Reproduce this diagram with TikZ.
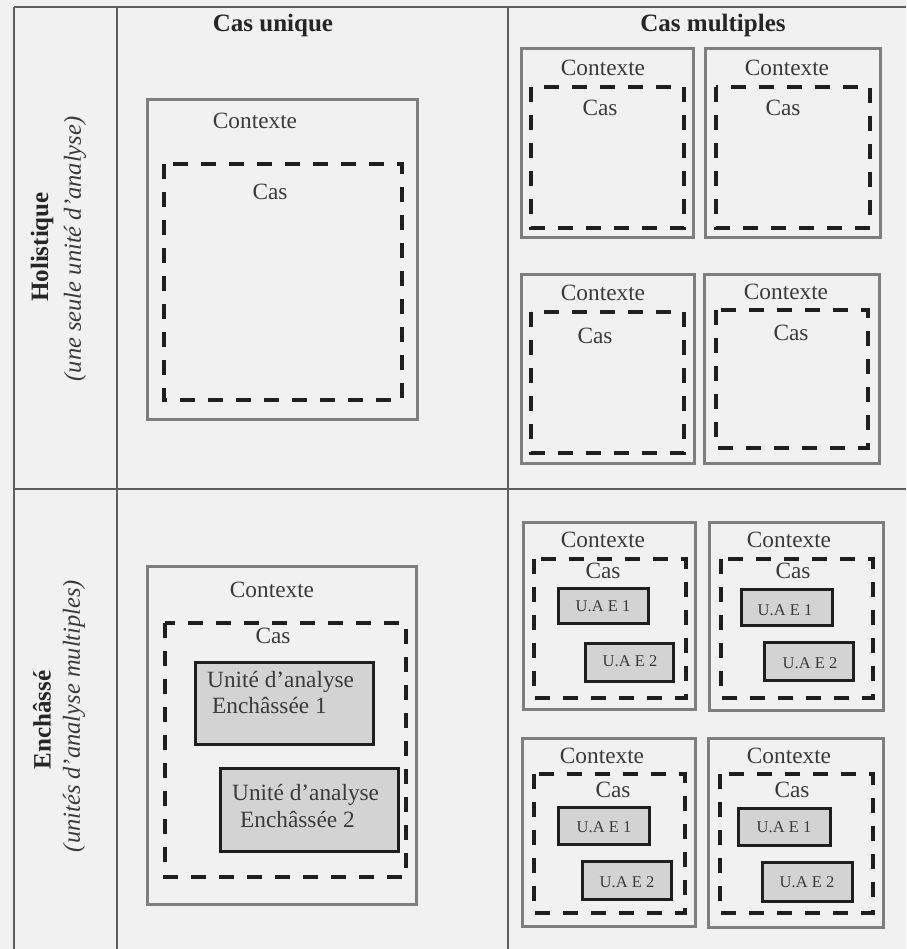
\documentclass[tikz,border=0pt]{standalone}
\usepackage{fontspec}
\setmainfont{Liberation Serif}
\definecolor{bgc}{HTML}{F1F1F1}
\definecolor{gridc}{HTML}{5E5E5E}
\definecolor{ctxc}{HTML}{7E7E7E}
\definecolor{casc}{HTML}{1E1E1E}
\definecolor{uaefill}{HTML}{D3D3D3}
\definecolor{txtc}{HTML}{3A3A3A}
\tikzset{
  gridline/.style={draw=gridc, line width=1.3pt},
  ctxbox/.style={draw=ctxc, line width=3pt},
  casbox/.style={draw=casc, line width=3.3pt, dash pattern=on 15pt off 13pt},
  uaebox/.style={draw=casc, fill=uaefill, line width=3pt},
  title/.style={font=\bfseries\fontsize{25}{28}\selectfont, text=black!85, anchor=base, inner sep=0pt},
  rowhead/.style={font=\bfseries\fontsize{25}{28}\selectfont, text=black!85, rotate=90, inner sep=0pt},
  rowsub/.style={font=\itshape\fontsize{24.5}{28}\selectfont, text=txtc, rotate=90, inner sep=0pt},
  lbl/.style={font=\fontsize{23.3}{26}\selectfont, text=txtc, anchor=base, inner sep=0pt},
  lblw/.style={font=\fontsize{23.3}{26}\selectfont, text=txtc, anchor=base west, inner sep=0pt},
  small/.style={font=\fontsize{16.5}{18}\selectfont, text=txtc, anchor=base, inner sep=0pt}
}
\begin{document}
\begin{tikzpicture}[x=1pt, y=-1pt]
\useasboundingbox (0,0) rectangle (906,949);
\fill[bgc] (0,0) rectangle (906,949);

% table grid
\draw[gridline] (14,7) -- (906,7);
\draw[gridline] (14,7) -- (14,949);
\draw[gridline] (117,7) -- (117,949);
\draw[gridline] (508,7) -- (508,949);
\draw[gridline] (14,489) -- (906,489);

% headers
\node[title] (hUnique) at (273,32) {Cas unique};
\node[title] (hMult) at (713,32) {Cas multiples};
\node[rowhead] (rHol) at (42,247) {Holistique};
\node[rowsub] (rHolSub) at (75,249) {(une seule unité d’analyse)};
\node[rowhead] (rEnc) at (42,720) {Enchâssé};
\node[rowsub] (rEncSub) at (74,716) {(unités d’analyse multiples)};

% ---------- Holistic, single case
\draw[ctxbox] (147,100) rectangle (417,419);
\draw[casbox] (164,164) rectangle (402,400);
\node[lbl] (hsCtx) at (255,129) {Contexte};
\node[lbl] (hsCas) at (270,200) {Cas};

% ---------- Holistic, multiple cases
\draw[ctxbox] (521,49) rectangle (693,238);
\draw[casbox] (531,87) rectangle (684,228);
\node[lbl] (hm1Ctx) at (603,76) {Contexte};
\node[lbl] (hm1Cas) at (600,116) {Cas};

\draw[ctxbox] (705,49) rectangle (880,238);
\draw[casbox] (716,87) rectangle (870,228);
\node[lbl] (hm2Ctx) at (787,76) {Contexte};
\node[lbl] (hm2Cas) at (783,116) {Cas};

\draw[ctxbox] (521,275) rectangle (694,463);
\draw[casbox] (531,312) rectangle (684,453);
\node[lbl] (hm3Ctx) at (603,301) {Contexte};
\node[lbl] (hm3Cas) at (595,343) {Cas};

\draw[ctxbox] (704,275) rectangle (879,463);
\draw[casbox] (716,310) rectangle (868,448);
\node[lbl] (hm4Ctx) at (786,299) {Contexte};
\node[lbl] (hm4Cas) at (791,340) {Cas};

% ---------- Embedded, single case
\draw[ctxbox] (147,566) rectangle (416,904);
\draw[casbox] (165,623) rectangle (406,877);
\draw[uaebox] (195,662) rectangle (373,744);
\draw[uaebox] (220,768) rectangle (398,851);
\node[lbl] (esCtx) at (272,597) {Contexte};
\node[lbl] (esCas) at (273,643) {Cas};
\node[lblw] (esU1a) at (207,687) {Unité d’analyse};
\node[lblw] (esU1b) at (212,713) {Enchâssée 1};
\node[lblw] (esU2a) at (232,800) {Unité d’analyse};
\node[lblw] (esU2b) at (240,827) {Enchâssée 2};

% ---------- Embedded, multiple cases
\draw[ctxbox] (523,522) rectangle (695,709);
\draw[casbox] (534,559) rectangle (686,698);
\draw[uaebox] (558,588) rectangle (648,623);
\draw[uaebox] (585,643) rectangle (673,681);
\node[lbl] (em1Ctx) at (603,547) {Contexte};
\node[lbl] (em1Cas) at (603,578) {Cas};
\node[small] (em1U1) at (603,611) {U.A E 1};
\node[small] (em1U2) at (630,666) {U.A E 2};

\draw[ctxbox] (709,522) rectangle (883,710);
\draw[casbox] (721,559) rectangle (873,698);
\draw[uaebox] (741,589) rectangle (832,625);
\draw[uaebox] (764,642) rectangle (853,680);
\node[lbl] (em2Ctx) at (789,547) {Contexte};
\node[lbl] (em2Cas) at (793,578) {Cas};
\node[small] (em2U1) at (785,615) {U.A E 1};
\node[small] (em2U2) at (810,668) {U.A E 2};

\draw[ctxbox] (522,738) rectangle (695,926);
\draw[casbox] (534,774) rectangle (685,913);
\draw[uaebox] (558,807) rectangle (649,844);
\draw[uaebox] (582,861) rectangle (671,899);
\node[lbl] (em3Ctx) at (602,763) {Contexte};
\node[lbl] (em3Cas) at (613,797) {Cas};
\node[small] (em3U1) at (604,832) {U.A E 1};
\node[small] (em3U2) at (627,887) {U.A E 2};

\draw[ctxbox] (708,738) rectangle (883,927);
\draw[casbox] (720,774) rectangle (873,913);
\draw[uaebox] (738,808) rectangle (830,845);
\draw[uaebox] (762,862) rectangle (852,901);
\node[lbl] (em4Ctx) at (789,763) {Contexte};
\node[lbl] (em4Cas) at (792,797) {Cas};
\node[small] (em4U1) at (784,832) {U.A E 1};
\node[small] (em4U2) at (807,887) {U.A E 2};
\end{tikzpicture}
\end{document}
